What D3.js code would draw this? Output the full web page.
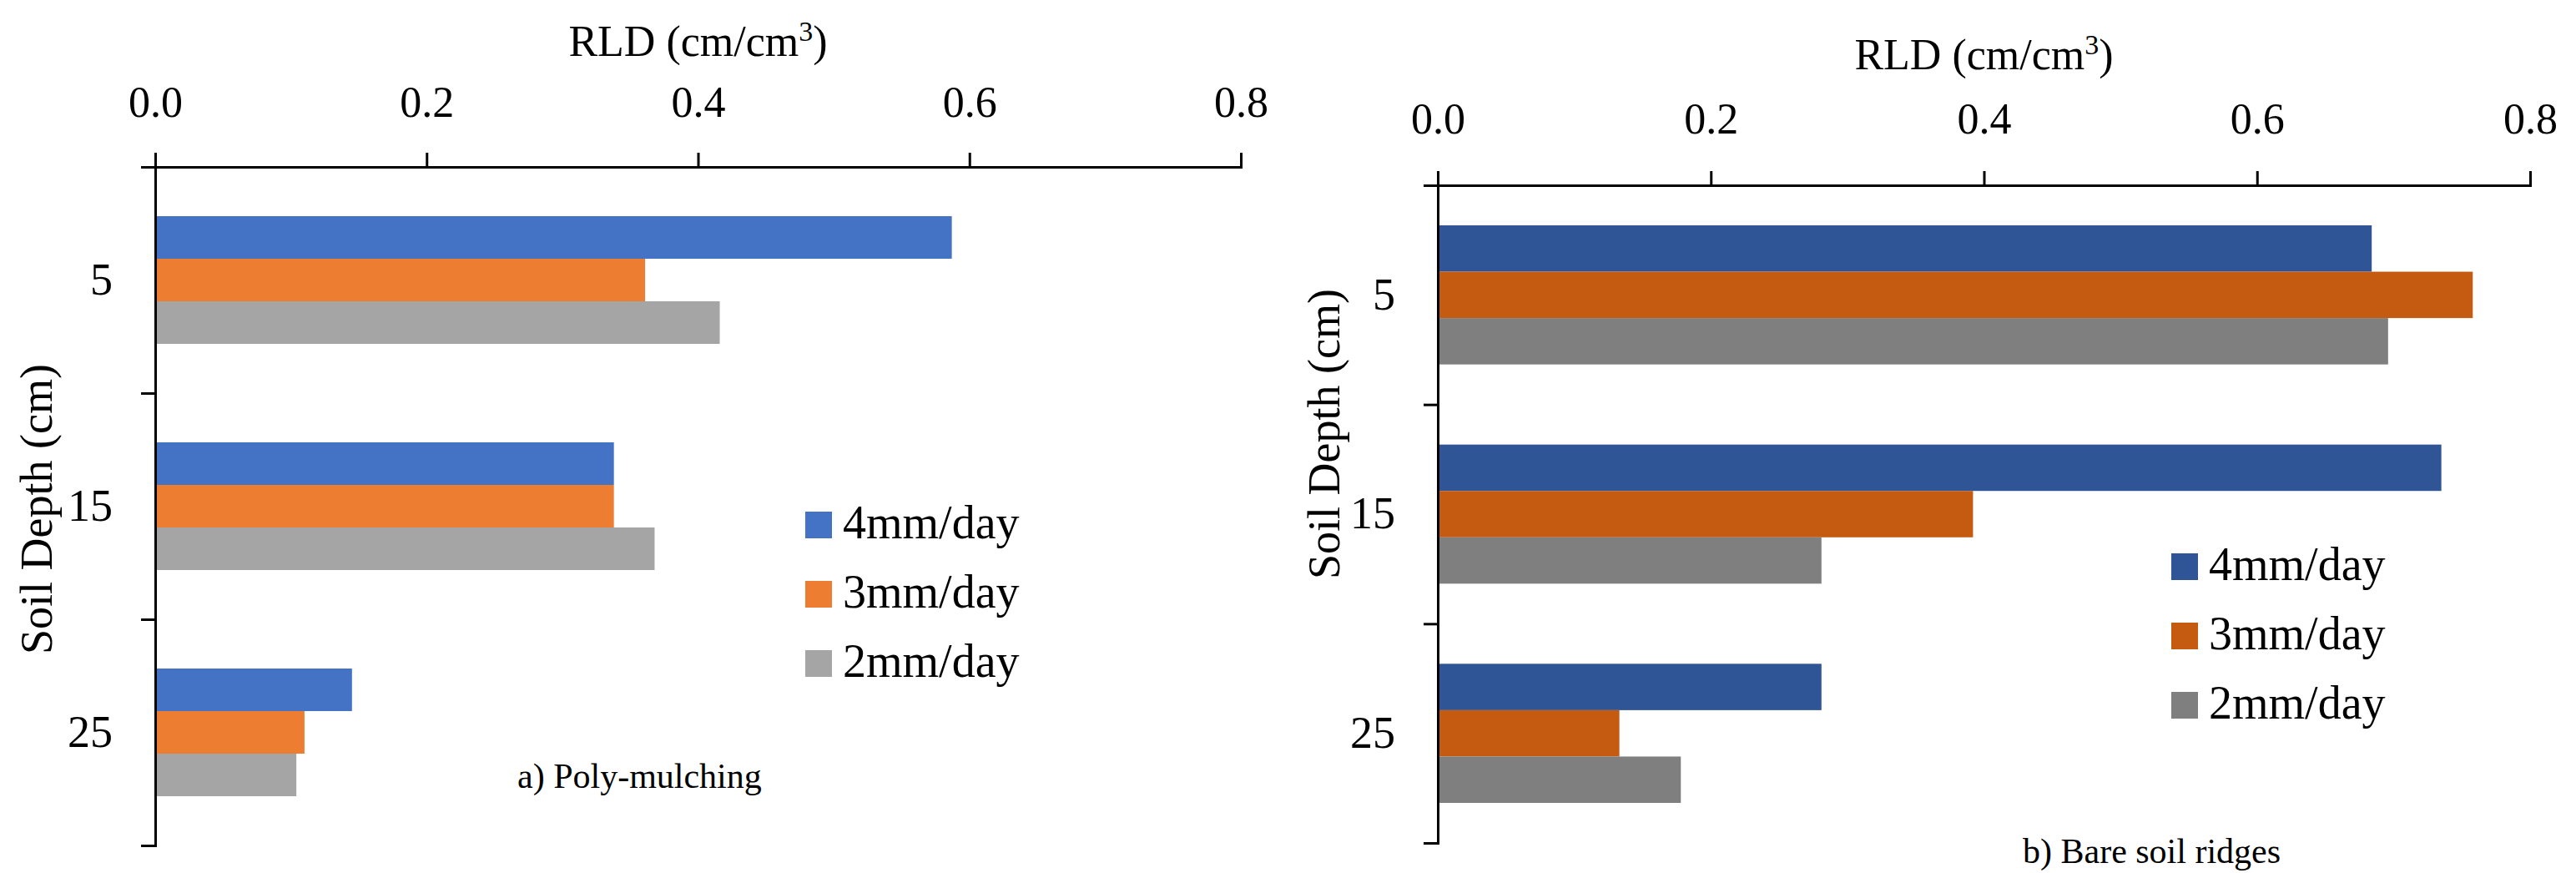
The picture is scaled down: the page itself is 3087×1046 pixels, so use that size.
<html>
<head>
<script src="https://cdn.jsdelivr.net/npm/d3@7"></script>
<style>
  body { margin: 0; background: #fff; }
  svg text { font-family: 'Liberation Serif', 'Times New Roman', serif; fill: #000; }
  .domain, .tick line { stroke: #000; stroke-width: 3; }
</style>
</head>
<body>
<div id="chart"></div>
<script>
// data
var depths = ["5", "15", "25"];
var series = ["4mm/day", "3mm/day", "2mm/day"];
var xTicks = [0, 0.2, 0.4, 0.6, 0.8];

var polyMulch = [
  [0.587, 0.338, 0.145],   // 4mm/day
  [0.361, 0.338, 0.110],   // 3mm/day
  [0.416, 0.368, 0.104]    // 2mm/day
];
var bareRidges = [
  [0.684, 0.735, 0.281],
  [0.758, 0.392, 0.133],
  [0.696, 0.281, 0.178]
];

var colorsA = ["#4472C4", "#ED7D31", "#A5A5A5"];
var colorsB = ["#2F5597", "#C55A11", "#7F7F7F"];

var serifFont = "'Liberation Serif', 'Times New Roman', serif";

var svg = d3.select("#chart").append("svg")
    .attr("width", 3087)
    .attr("height", 1046)
    .attr("font-family", serifFont);

function panel(opt) {
  var x = d3.scaleLinear().domain([0, 0.8]).range([opt.left, opt.right]);
  var y = d3.scaleBand().domain(depths).range([opt.top, opt.bottom]).padding(0);
  var yTicks = d3.scaleLinear().domain([0, 3]).range([opt.top, opt.bottom]);
  var inner = d3.scaleBand().domain(series)
      .range([opt.groupPad, y.bandwidth() - opt.groupPad]).padding(0);

  var g = svg.append("g");

  // bars
  series.forEach(function(s, i) {
    g.selectAll(null)
      .data(opt.values[i])
      .enter()
      .append("rect")
      .attr("x", x(0))
      .attr("y", function(d, j) { return y(depths[j]) + inner(s); })
      .attr("width", function(d) { return x(d) - x(0); })
      .attr("height", inner.bandwidth())
      .attr("fill", opt.colors[i]);
  });

  // top value axis
  var ax = g.append("g")
      .attr("transform", "translate(0," + opt.top + ")")
      .call(d3.axisTop(x).tickValues(xTicks).tickFormat(d3.format(".1f"))
        .tickSize(17).tickSizeOuter(17).tickPadding(opt.tickPad));
  ax.attr("font-family", serifFont);
  ax.selectAll("text").style("font-size", "52px");

  // left depth axis: ticks between categories, labels at centres
  g.append("g")
      .attr("transform", "translate(" + opt.left + ",0)")
      .call(d3.axisLeft(yTicks).tickValues([1, 2]).tickFormat("")
        .tickSize(17).tickSizeOuter(17));
  var ly = g.append("g")
      .attr("transform", "translate(" + opt.left + ",0)")
      .call(d3.axisLeft(y).tickSize(0).tickPadding(51));
  ly.attr("font-family", serifFont);
  ly.select(".domain").remove();
  ly.selectAll("text").style("font-size", "54px");

  // axis titles
  var t = g.append("text")
      .attr("x", (opt.left + opt.right) / 2)
      .attr("y", opt.titleY)
      .attr("text-anchor", "middle")
      .style("font-size", "52px")
      .text("RLD (cm/cm");
  t.append("tspan").attr("dy", "-18").style("font-size", "34px").text("3");
  t.append("tspan").attr("dy", "18").text(")");

  g.append("text")
      .attr("transform", "translate(" + opt.yTitleX + "," + opt.yTitleY + ") rotate(-90)")
      .attr("text-anchor", "middle")
      .style("font-size", "54px")
      .text("Soil Depth (cm)");

  // legend
  var lg = g.append("g");
  series.forEach(function(s, i) {
    lg.append("rect")
      .attr("x", opt.legX)
      .attr("y", opt.legY + i * 83)
      .attr("width", 32).attr("height", 32)
      .attr("fill", opt.colors[i]);
    lg.append("text")
      .attr("x", opt.legX + 45)
      .attr("y", opt.legY + i * 83 + 32)
      .style("font-size", "56px")
      .text(s);
  });

  g.append("text")
      .attr("x", opt.capX)
      .attr("y", opt.capY)
      .style("font-size", "42px")
      .text(opt.caption);
}

panel({
  values: polyMulch, colors: colorsA,
  left: 186, right: 1487, top: 200, bottom: 1013,
  groupPad: 59, tickPad: 43, titleY: 67,
  yTitleX: 62, yTitleY: 610,
  legX: 965, legY: 613,
  capX: 620, capY: 944, caption: "a) Poly-mulching"
});

panel({
  values: bareRidges, colors: colorsB,
  left: 1723, right: 3032, top: 222, bottom: 1010,
  groupPad: 48, tickPad: 45, titleY: 83,
  yTitleX: 1605, yTitleY: 520,
  legX: 2602, legY: 663,
  capX: 2424, capY: 1034, caption: "b) Bare soil ridges"
});
</script>
</body>
</html>
